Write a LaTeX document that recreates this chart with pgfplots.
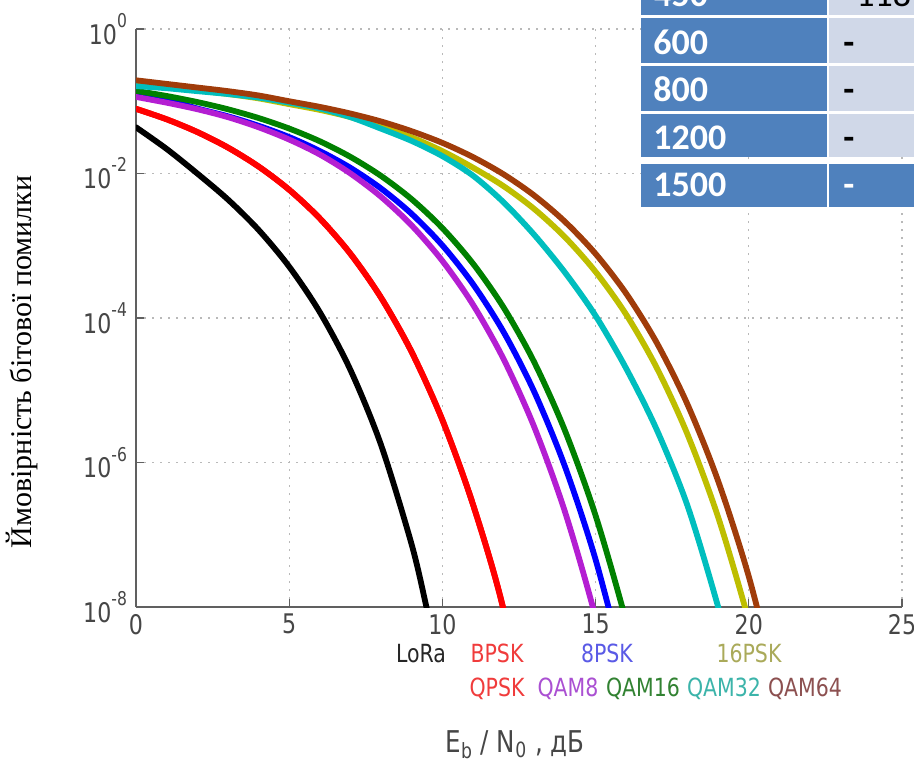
\documentclass[border=0pt]{standalone}
\usepackage{fontspec}
\usepackage{pgfplots}
\pgfplotsset{compat=1.18}
\setmainfont{Liberation Serif}
\newfontfamily\tickfont[FakeStretch=0.82]{DejaVu Sans}
\newfontfamily\cellfont{Carlito}
\definecolor{cBlue}{RGB}{0,0,255}
\definecolor{cRed}{RGB}{255,0,0}
\definecolor{cGreen}{RGB}{0,128,0}
\definecolor{cPurple}{RGB}{180,30,210}
\definecolor{cCyan}{RGB}{0,190,190}
\definecolor{cOlive}{RGB}{190,190,0}
\definecolor{cBrown}{RGB}{160,60,10}
\definecolor{cellBlue}{RGB}{79,129,189}
\definecolor{cellLight}{RGB}{208,216,232}
\definecolor{tickgray}{RGB}{70,70,70}
\definecolor{lgRed}{RGB}{240,60,60}
\definecolor{lgBlue}{RGB}{90,90,230}
\definecolor{lgOlive}{RGB}{170,170,90}
\definecolor{lgPurple}{RGB}{170,80,210}
\definecolor{lgGreen}{RGB}{50,130,50}
\definecolor{lgCyan}{RGB}{60,180,170}
\definecolor{lgBrown}{RGB}{140,80,80}
\newcommand{\ex}[1]{\raisebox{0.62em}{\fontsize{9.5}{10}\selectfont #1}}

\pgfplotstableread{
x y
0 4.365e-2
1 2.188e-2
2 1.000e-2
3 4.365e-3
4 1.660e-3
5 5.129e-4
6 1.202e-4
7 1.905e-5
8 1.738e-6
9 7.244e-8
9.5 9.12e-9
10 1.0e-9
}\lora
\pgfplotstableread{
x y
0 7.865e-2
1 5.628e-2
2 3.751e-2
3 2.288e-2
4 1.250e-2
5 5.954e-3
6 2.388e-3
7 7.727e-4
8 1.909e-4
9 3.363e-5
10 3.872e-6
11 2.613e-7
12 9.006e-9
13 6.68e-11
}\bpsk
\pgfplotstableread{
x y
0 1.259e-1
1 1.047e-1
2 7.943e-2
3 6.194e-2
4 4.581e-2
5 3.192e-2
6 2.046e-2
7 1.197e-2
8 6.194e-3
9 2.754e-3
10 1.012e-3
11 2.938e-4
12 6.368e-5
13 9.462e-6
14 8.790e-7
15 4.529e-8
16 1.109e-9
}\psketta
\pgfplotstableread{
x y
0 1.738e-1
1 1.585e-1
2 1.413e-1
3 1.259e-1
4 1.096e-1
5 9.120e-2
6 7.586e-2
7 6.026e-2
8 4.467e-2
9 3.162e-2
10 2.042e-2
11 1.205e-2
12 6.668e-3
13 3.221e-3
14 1.315e-3
15 4.355e-4
16 1.114e-4
17 2.028e-5
18 2.443e-6
19 1.746e-7
20 6.442e-9
21 1.5e-10
}\psksixteen
\pgfplotstableread{
x y
0 1.148e-1
1 9.550e-2
2 7.762e-2
3 6.026e-2
4 4.365e-2
5 2.951e-2
6 1.832e-2
7 1.000e-2
8 4.753e-3
9 1.905e-3
10 6.166e-4
11 1.528e-4
12 2.685e-5
13 3.083e-6
14 2.080e-7
15 7.145e-9
16 1.2e-10
}\qameight
\pgfplotstableread{
x y
0 1.393e-1
1 1.183e-1
2 9.750e-2
3 7.745e-2
4 5.861e-2
5 4.188e-2
6 2.793e-2
7 1.698e-2
8 9.247e-3
9 4.395e-3
10 1.754e-3
11 5.649e-4
12 1.393e-4
13 2.432e-5
14 2.761e-6
15 1.841e-7
16 6.252e-9
17 1.3e-10
}\qamsixteen
\pgfplotstableread{
x y
0 1.622e-1
1 1.514e-1
2 1.380e-1
3 1.259e-1
4 1.122e-1
5 9.550e-2
6 7.943e-2
7 6.026e-2
8 4.169e-2
9 2.818e-2
10 1.738e-2
11 9.333e-3
12 3.981e-3
13 1.413e-3
14 4.266e-4
15 1.072e-4
16 1.995e-5
17 2.818e-6
18 2.512e-7
19 1.000e-8
20 2.5e-10
}\qamthirtytwo
\pgfplotstableread{
x y
0 1.950e-1
1 1.738e-1
2 1.549e-1
3 1.380e-1
4 1.202e-1
5 1.000e-1
6 8.356e-2
7 6.761e-2
8 5.248e-2
9 3.846e-2
10 2.655e-2
11 1.687e-2
12 9.727e-3
13 4.955e-3
14 2.153e-3
15 7.727e-4
16 2.173e-4
17 4.508e-5
18 6.353e-6
19 5.534e-7
20 2.636e-8
21 5.83e-10
}\qamsixtyfour

\begin{document}
\begin{tikzpicture}
\useasboundingbox (0,0) rectangle (457pt,380.5pt);
\begin{axis}[
  at={(68pt,77pt)}, anchor=south west,
  scale only axis, width=383pt, height=289pt,
  ymode=log, xmin=0, xmax=25, ymin=1e-8, ymax=1,
  axis x line*=bottom, axis y line*=left,
  axis line style={-, draw=gray!75!black, line width=0.8pt},
  xtick={0,5,10,15,20,25},
  xticklabels={0,5,10,15,20,25},
  ytick={1e-8,1e-6,1e-4,1e-2,1},
  yticklabels={10\ex{-8},10\ex{-6},10\ex{-4},10\ex{-2},10\ex{0}},
  yminorticks=false, xminorticks=false,
  tick align=inside, major tick length=4pt,
  tick style={draw=gray!75!black, line width=0.6pt},
  tick label style={font=\tickfont\fontsize{13.5}{15}\selectfont, text=tickgray},
  yticklabel style={xshift=-1pt},
  grid=major,
  major grid style={draw=gray!55, line width=0.6pt, dash pattern=on 0.8pt off 3.2pt},
  every axis plot/.append style={line width=2.9pt, line join=round, line cap=round, smooth, tension=0.5},
  clip=true,
]
\addplot[black] table[x=x,y=y] {\lora};
\addplot[cRed] table[x=x,y=y] {\bpsk};
\addplot[cRed] table[x=x,y=y] {\bpsk};
\addplot[cBlue] table[x=x,y=y] {\psketta};
\addplot[cOlive] table[x=x,y=y] {\psksixteen};
\addplot[cPurple] table[x=x,y=y] {\qameight};
\addplot[cGreen] table[x=x,y=y] {\qamsixteen};
\addplot[cCyan] table[x=x,y=y] {\qamthirtytwo};
\addplot[cBrown] table[x=x,y=y] {\qamsixtyfour};
\end{axis}
\begin{scope}[x=0.5pt, y=-0.5pt, shift={(0pt,380.5pt)}]
  \clip (0,0) rectangle (914,761);
  % table fragment
  \fill[cellBlue] (641,-60) rectangle (827,15);
  \fill[cellLight] (829,-60) rectangle (960,15);
  \fill[cellBlue] (641,18) rectangle (827,63);
  \fill[cellLight] (829,18) rectangle (960,63);
  \fill[cellBlue] (641,66) rectangle (827,111);
  \fill[cellLight] (829,66) rectangle (960,111);
  \fill[cellBlue] (641,114) rectangle (827,157);
  \fill[cellLight] (829,114) rectangle (960,157);
  \fill[cellBlue] (641,164) rectangle (827,207);
  \fill[cellBlue] (829,164) rectangle (960,207);
  \begin{scope}[every node/.style={anchor=base west, inner sep=0pt, font=\cellfont\bfseries\fontsize{18}{20}\selectfont}]
    \node[text=white] at (653,7) {450};
    \node[text=black, font=\cellfont\fontsize{18}{20}\selectfont] at (856,7) {118};
    \node[text=white] at (653,55) {600};
    \node[text=black] at (843,55) {-};
    \node[text=white] at (653,102) {800};
    \node[text=black] at (843,102) {-};
    \node[text=white] at (653,150) {1200};
    \node[text=black] at (843,150) {-};
    \node[text=white] at (653,197) {1500};
    \node[text=white] at (843,197) {-};
  \end{scope}
  % legend
  \begin{scope}[every node/.style={anchor=base, inner sep=0pt, font=\tickfont\fontsize{12.5}{14}\selectfont}]
    \node[text=black!85] at (421,662) {LoRa};
    \node[text=lgRed] at (497,662) {BPSK};
    \node[text=lgBlue] at (607,662) {8PSK};
    \node[text=lgOlive] at (749,662) {16PSK};
    \node[text=lgRed] at (497,696) {QPSK};
    \node[text=lgPurple] at (568,696) {QAM8};
    \node[text=lgGreen] at (643,696) {QAM16};
    \node[text=lgCyan] at (724,696) {QAM32};
    \node[text=lgBrown] at (805,696) {QAM64};
  \end{scope}
  % axis labels
  \node[anchor=base, inner sep=0pt, text=tickgray, font=\tickfont\fontsize{15}{17}\selectfont] at (515,752) {E\textsubscript{b}~/~N\textsubscript{0}~,~дБ};
  \node[rotate=90, inner sep=0pt, font=\fontsize{15}{17}\selectfont] at (22,362) {Ймовірність бітової помилки};
\end{scope}
\end{tikzpicture}
\end{document}
